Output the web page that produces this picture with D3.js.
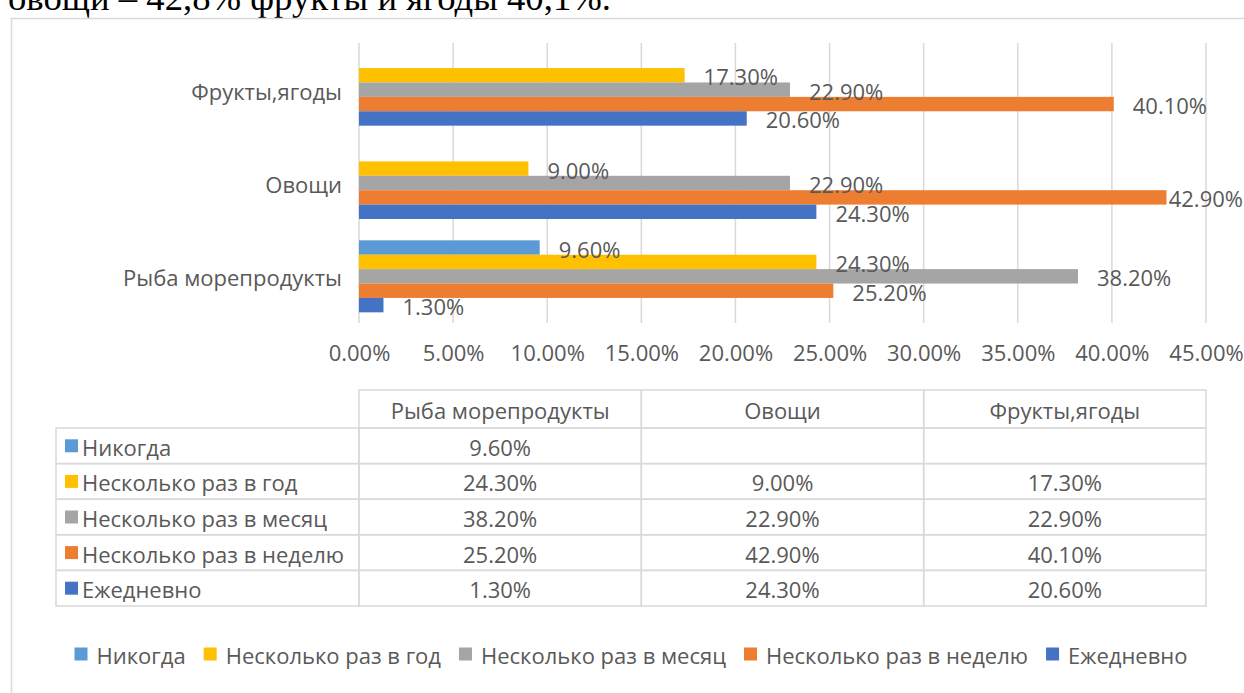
<!DOCTYPE html>
<html>
<head>
<meta charset="utf-8">
<script src="https://cdn.jsdelivr.net/npm/d3@7"></script>
<style>
  body { margin: 0; background: #fff; }
  svg { display: block; font-family: "Open Sans", sans-serif; }
</style>
</head>
<body>
<svg id="grafico"></svg>
<script>
"use strict"

const categorias = ['Рыба морепродукты', 'Овощи', 'Фрукты,ягоды'];
const series = ['Никогда', 'Несколько раз в год', 'Несколько раз в месяц', 'Несколько раз в неделю', 'Ежедневно'];
const nikogda = [9.6, null, null];
const razVGod = [24.3, 9.0, 17.3];
const razVMesyac = [38.2, 22.9, 22.9];
const razVNedelyu = [25.2, 42.9, 40.1];
const ezhednevno = [1.3, 24.3, 20.6];
const ticksX = [0, 5, 10, 15, 20, 25, 30, 35, 40, 45];
const cores = ['#5B9BD5', '#FFC000', '#A5A5A5', '#ED7D31', '#4472C4'];
const textoTopo = 'овощи – 42,8% фрукты и ягоды 40,1%.';

function iniciar(){
  const largura = 1244;
  const altura = 693;
  const valores = [nikogda, razVGod, razVMesyac, razVNedelyu, ezhednevno];
  const fmt = v => v.toFixed(2) + '%';
  const corTexto = '#595959';
  const grade = '#d9d9d9';

  const svg = d3.select('#grafico').attr('width', largura).attr('height', altura);

  // texto do documento, cortado em cima
  svg.append('text')
    .attr('x', 8).attr('y', 10)
    .attr('font-family', '"Liberation Serif", serif')
    .attr('font-size', 36.7)
    .attr('fill', '#000')
    .text(textoTopo);

  // borda da area do grafico
  svg.append('rect')
    .attr('x', 11.5).attr('y', 18.5)
    .attr('width', 1400).attr('height', 900)
    .attr('fill', 'none')
    .attr('stroke', grade)
    .attr('stroke-width', 1.5);

  const plot = { esquerda: 359, direita: 1206, topo: 43, base: 323 };

  const x = d3.scaleLinear()
              .domain([0, 45])
              .range([plot.esquerda, plot.direita]);
  const y = d3.scaleBand()
              .domain(categorias.slice().reverse())
              .range([plot.topo, plot.base]);
  const yInterno = d3.scaleBand()
              .domain(series)
              .range([0, y.bandwidth()])
              .paddingOuter(0.74);

  // linhas de grade
  svg.append('g').selectAll('line')
    .data(ticksX)
    .enter()
      .append('line')
      .attr('x1', d => x(d)).attr('x2', d => x(d))
      .attr('y1', plot.topo).attr('y2', plot.base)
      .attr('stroke', grade)
      .attr('stroke-width', 1.5);

  // eixo x
  const eixo = svg.append('g')
    .attr('transform', `translate(0, ${plot.base})`)
    .call(d3.axisBottom(x).tickValues(ticksX).tickFormat(fmt).tickSize(0).tickPadding(22));
  eixo.select('.domain').remove();
  eixo.selectAll('text')
    .attr('font-family', '"Open Sans", sans-serif')
    .attr('font-size', 22)
    .attr('fill', corTexto);

  // rotulos das categorias
  svg.append('g').selectAll('text')
    .data(categorias)
    .enter()
      .append('text')
      .attr('x', 342)
      .attr('y', d => y(d) + y.bandwidth() / 2 + 1)
      .attr('text-anchor', 'end')
      .attr('dominant-baseline', 'central')
      .attr('font-size', 22)
      .attr('fill', corTexto)
      .text(d => d);

  const barras = [];
  series.forEach((s, i) => {
    categorias.forEach((c, j) => {
      if (valores[i][j] != null) barras.push({ serie: s, cat: c, valor: valores[i][j], cor: cores[i] });
    });
  });

  svg.append('g').selectAll('.barra')
    .data(barras)
    .enter()
      .append('rect')
      .classed('barra', true)
      .attr('x', x(0))
      .attr('y', d => y(d.cat) + yInterno(d.serie))
      .attr('width', d => x(d.valor) - x(0))
      .attr('height', yInterno.bandwidth())
      .attr('fill', d => d.cor);

  svg.append('g').selectAll('.rotulo')
    .data(barras)
    .enter()
      .append('text')
      .classed('rotulo', true)
      .attr('y', d => y(d.cat) + yInterno(d.serie) + yInterno.bandwidth() / 2 + 1)
      .attr('dominant-baseline', 'central')
      .attr('font-size', 22)
      .attr('fill', corTexto)
      .text(d => fmt(d.valor))
      .attr('x', function(d){
        const w = this.getComputedTextLength();
        return Math.min(x(d.valor) + 19, 1243 - w);
      });

  // tabela de dados
  const colunas = d3.scaleBand()
              .domain(categorias)
              .range([plot.esquerda, plot.direita]);
  const cabecalho = { topo: 390, base: 428 };
  const linhas = d3.scaleBand()
              .domain(series)
              .range([cabecalho.base, 606]);
  const tabela = svg.append('g');
  const esqTabela = 56;

  const celulas = [];
  categorias.forEach(c => celulas.push({ x: colunas(c), y: cabecalho.topo, w: colunas.bandwidth(), h: cabecalho.base - cabecalho.topo }));
  series.forEach(s => {
    celulas.push({ x: esqTabela, y: linhas(s), w: plot.esquerda - esqTabela, h: linhas.bandwidth() });
    categorias.forEach(c => celulas.push({ x: colunas(c), y: linhas(s), w: colunas.bandwidth(), h: linhas.bandwidth() }));
  });
  tabela.selectAll('rect')
    .data(celulas)
    .enter()
      .append('rect')
      .attr('x', d => d.x).attr('y', d => d.y)
      .attr('width', d => d.w).attr('height', d => d.h)
      .attr('fill', 'none')
      .attr('stroke', grade)
      .attr('stroke-width', 1.5);

  tabela.selectAll('.cab')
    .data(categorias)
    .enter()
      .append('text')
      .classed('cab', true)
      .attr('x', d => colunas(d) + colunas.bandwidth() / 2)
      .attr('y', (cabecalho.topo + cabecalho.base) / 2 + 1)
      .attr('text-anchor', 'middle')
      .attr('dominant-baseline', 'central')
      .attr('font-size', 22)
      .attr('fill', corTexto)
      .text(d => d);

  series.forEach((s, i) => {
    const cy = linhas(s) + linhas.bandwidth() / 2;
    tabela.append('rect')
      .attr('x', 65).attr('y', cy - 6.5)
      .attr('width', 13).attr('height', 13)
      .attr('fill', cores[i]);
    tabela.append('text')
      .attr('x', 82).attr('y', cy + 1)
      .attr('dominant-baseline', 'central')
      .attr('font-size', 22)
      .attr('fill', corTexto)
      .text(s);
    tabela.selectAll('.v' + i)
      .data(categorias)
      .enter()
        .append('text')
        .attr('x', c => colunas(c) + colunas.bandwidth() / 2)
        .attr('y', cy + 1)
        .attr('text-anchor', 'middle')
        .attr('dominant-baseline', 'central')
        .attr('font-size', 22)
        .attr('fill', corTexto)
        .text((c, j) => valores[i][j] == null ? '' : fmt(valores[i][j]));
  });

  // legenda
  const legenda = svg.append('g');
  let pos = 0;
  series.forEach((s, i) => {
    const item = legenda.append('g').attr('transform', `translate(${pos}, 0)`);
    item.append('rect')
      .attr('x', 0).attr('y', -6.5)
      .attr('width', 13).attr('height', 13)
      .attr('fill', cores[i]);
    const t = item.append('text')
      .attr('x', 22).attr('y', 1)
      .attr('dominant-baseline', 'central')
      .attr('font-size', 22)
      .attr('fill', corTexto)
      .text(s);
    pos += 22 + t.node().getComputedTextLength() + 18;
  });
  pos -= 18;
  legenda.attr('transform', `translate(${631 - pos / 2}, 654)`);
}

window.addEventListener('load', iniciar, false);
</script>
</body>
</html>
